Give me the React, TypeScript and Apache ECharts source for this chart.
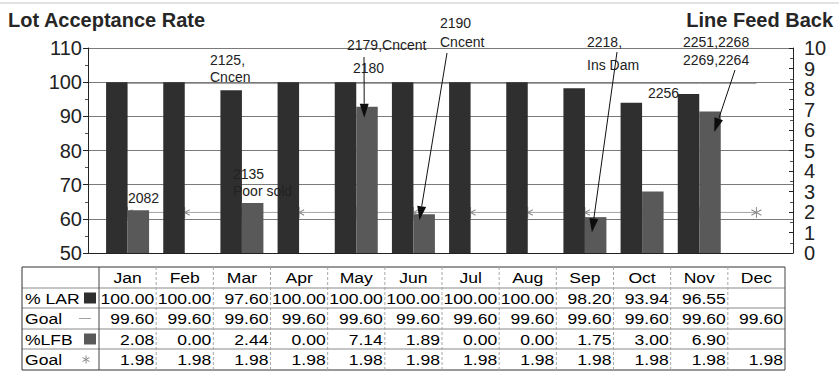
import React, { useEffect, useRef } from "react";
import * as echarts from "echarts";

// ---------- data ----------
const months = ["Jan", "Feb", "Mar", "Apr", "May", "Jun", "Jul", "Aug", "Sep", "Oct", "Nov", "Dec"];
const larValues = [100.0, 100.0, 97.6, 100.0, 100.0, 100.0, 100.0, 100.0, 98.2, 93.94, 96.55, null];
const larGoal = [99.6, 99.6, 99.6, 99.6, 99.6, 99.6, 99.6, 99.6, 99.6, 99.6, 99.6, 99.6];
const lfbValues = [2.08, 0.0, 2.44, 0.0, 7.14, 1.89, 0.0, 0.0, 1.75, 3.0, 6.9, null];
const lfbGoal = [1.98, 1.98, 1.98, 1.98, 1.98, 1.98, 1.98, 1.98, 1.98, 1.98, 1.98, 1.98];
const rowLabels = ["% LAR", "Goal", "%LFB", "Goal"];
const leftAxis = { min: 50, max: 110, interval: 10 };
const rightAxis = { min: 0, max: 10, interval: 1 };
const titleLeft = "Lot Acceptance Rate";
const titleRight = "Line Feed Back";

// annotation texts (each line separately)
const noteLines = ["2082", "2125,", "Cncen", "2135", "Poor sold", "2179,Cncent", "2180", "2190", "Cncent", "2218,", "Ins Dam", "2256", "2251,2268", "2269,2264"];
// arrows point at the %LFB bars
const arrowMonths = ["May", "Jun", "Sep", "Nov"];
const arrowTipValues = [6.6, 1.6, 1.0, 5.9];

// ---------- layout ----------
const W = 839;
const H = 378;
const FONT = '"Liberation Sans", Arial, sans-serif';
const noteLayout = [
  [128, 198], [210, 60], [210, 77], [233, 174], [233, 191], [347, 45], [353, 68],
  [440, 23], [440, 42], [587, 42], [587, 65], [648, 93], [683, 42], [683, 60],
];
const arrowStarts = [[364, 57], [447, 53], [617, 52], [735, 70]];
const arrowTipDx = [8, 6, 7, 15];
const tableRowsY = [267, 288, 308, 329, 349, 370];
const tableLeft = 22;

const DARK = "#2f2f2f";
const MID = "#595959";
const GOAL = "#a2a2a2";
const STAR = "path://M5,0L5,10M0.7,2.5L9.3,7.5M0.7,7.5L9.3,2.5";

export default function App() {
  const ref = useRef<HTMLDivElement>(null);

  useEffect(() => {
    if (!ref.current) return;
    const chart = echarts.init(ref.current, null, { renderer: "svg" });

    const axisLabel = { fontSize: 20, color: "#222", fontFamily: FONT };
    chart.setOption({
      animation: false,
      backgroundColor: "#ffffff",
      grid: [
        { left: 99, right: W - 785, top: 48, bottom: H - 253 },
        { left: 88, right: W - 793, top: 48, bottom: H - 253 },
      ],
      xAxis: [
        { gridIndex: 0, type: "category", data: months, show: false },
        {
          gridIndex: 1, type: "value", min: 0, max: 1,
          axisLine: { show: true, onZero: false, lineStyle: { color: "#222" } },
          axisTick: { show: false }, axisLabel: { show: false }, splitLine: { show: false },
        },
      ],
      yAxis: [
        { gridIndex: 0, type: "value", min: leftAxis.min, max: leftAxis.max, show: false },
        { gridIndex: 0, type: "value", min: rightAxis.min, max: rightAxis.max, show: false },
        {
          gridIndex: 1, type: "value", position: "left",
          min: leftAxis.min, max: leftAxis.max, interval: leftAxis.interval,
          axisLine: { show: true, lineStyle: { color: "#222" } },
          axisTick: { show: true, length: 5, lineStyle: { color: "#222" } },
          minorTick: { show: true, splitNumber: 2, length: 3, lineStyle: { color: "#555" } },
          axisLabel: { ...axisLabel, margin: 6 },
          splitLine: { show: true, lineStyle: { color: "#7a7a7a", width: 1 } },
        },
        {
          gridIndex: 1, type: "value", position: "right",
          min: rightAxis.min, max: rightAxis.max, interval: rightAxis.interval,
          axisLine: { show: true, lineStyle: { color: "#222" } },
          axisTick: { show: true, inside: true, length: 4, lineStyle: { color: "#222" } },
          minorTick: { show: true, splitNumber: 2, length: 3, lineStyle: { color: "#555" } },
          axisLabel: { ...axisLabel, margin: 11 },
          splitLine: { show: false },
        },
      ],
      series: [
        {
          name: "% LAR", type: "bar", xAxisIndex: 0, yAxisIndex: 0, data: larValues,
          barWidth: 21.5, barGap: "0%", itemStyle: { color: DARK }, z: 3,
        },
        {
          name: "%LFB", type: "bar", xAxisIndex: 0, yAxisIndex: 1, data: lfbValues,
          barWidth: 21.5, barGap: "0%", itemStyle: { color: MID }, z: 3,
        },
        {
          name: "Goal LAR", type: "line", xAxisIndex: 0, yAxisIndex: 0, data: larGoal,
          symbol: "none", lineStyle: { color: GOAL, width: 1 }, z: 1,
        },
        {
          name: "Goal LFB", type: "line", xAxisIndex: 0, yAxisIndex: 1, data: lfbGoal,
          symbol: STAR, symbolSize: [10, 11], showAllSymbol: true,
          itemStyle: { color: "transparent", borderColor: "#8a8a8a", borderWidth: 1 },
          lineStyle: { color: GOAL, width: 1 }, z: 1,
        },
      ],
    });

    // ---------- overlay: titles, annotations, data table ----------
    const centers = months.map((m) => chart.convertToPixel({ xAxisIndex: 0 }, m) as number);
    const bw = centers[1] - centers[0];
    const colEdges = [centers[0] - bw / 2, ...centers.map((c) => c + bw / 2)];
    const tableRight = colEdges[colEdges.length - 1];

    const g: any[] = [];
    const text = (x: number, y: number, t: string, o: any = {}) => ({
      type: "text", x, y, silent: true, z: 100, scaleX: o.scaleX ?? 1,
      style: {
        text: t, fill: o.fill ?? "#1a1a1a",
        font: `${o.weight ?? "normal"} ${o.size ?? 15}px ${FONT}`,
        textAlign: o.align ?? "left", textVerticalAlign: "middle",
      },
    });

    g.push({ type: "line", silent: true, shape: { x1: 0, y1: 3, x2: W, y2: 3 }, style: { stroke: "#c4c4c4", lineWidth: 1 } });
    g.push(text(8, 20, titleLeft, { size: 20, weight: "bold", fill: "#262626" }));
    g.push(text(833, 20, titleRight, { size: 20, weight: "bold", fill: "#262626", align: "right" }));

    noteLines.forEach((t, i) => {
      const [x, y] = noteLayout[i];
      g.push(text(x, y, t, { size: 14, fill: "#222" }));
    });

    arrowMonths.forEach((m, i) => {
      const p = chart.convertToPixel({ seriesIndex: 1 }, [m, arrowTipValues[i]]) as number[];
      const tx = p[0] + arrowTipDx[i];
      const ty = p[1];
      const [sx, sy] = arrowStarts[i];
      const dx = tx - sx, dy = ty - sy;
      const len = Math.hypot(dx, dy);
      const ux = dx / len, uy = dy / len;
      const hl = 14, hw = 4.5;
      const bx = tx - ux * hl, by = ty - uy * hl;
      g.push({ type: "line", silent: true, z: 100, shape: { x1: sx, y1: sy, x2: bx, y2: by }, style: { stroke: "#111", lineWidth: 1 } });
      g.push({
        type: "polygon", silent: true, z: 100,
        shape: { points: [[tx, ty], [bx - uy * hw, by + ux * hw], [bx + uy * hw, by - ux * hw]] },
        style: { fill: "#0d0d0d" },
      });
    });

    // table grid
    const yTop = tableRowsY[0];
    const yBot = tableRowsY[tableRowsY.length - 1];
    tableRowsY.forEach((y, i) => {
      const outer = i === 0 || i === tableRowsY.length - 1;
      g.push({ type: "line", silent: true, shape: { x1: tableLeft, y1: y, x2: tableRight, y2: y },
        style: { stroke: outer ? "#333" : "#8a8a8a", lineWidth: 1 } });
    });
    g.push({ type: "line", silent: true, shape: { x1: tableLeft, y1: yTop, x2: tableLeft, y2: yBot }, style: { stroke: "#333", lineWidth: 1 } });
    colEdges.forEach((x, i) => {
      const outer = i === colEdges.length - 1 || i === 0;
      g.push({ type: "line", silent: true, shape: { x1: x, y1: yTop, x2: x, y2: yBot },
        style: { stroke: outer ? "#444" : "#a8a8a8", lineWidth: 1, lineDash: outer ? null : [3, 2] } });
    });

    const SX = 1.17;
    const TF = "#000";
    months.forEach((m, i) => {
      g.push(text(centers[i], (tableRowsY[0] + tableRowsY[1]) / 2, m, { scaleX: SX, align: "center", fill: TF }));
    });
    const rows = [larValues, larGoal, lfbValues, lfbGoal];
    rows.forEach((vals, r) => {
      const yc = (tableRowsY[r + 1] + tableRowsY[r + 2]) / 2;
      g.push(text(25, yc, rowLabels[r], { scaleX: SX, fill: TF }));
      vals.forEach((v, i) => {
        if (v === null || v === undefined) return;
        g.push(text(colEdges[i + 1] - 2, yc, (v as number).toFixed(2), { scaleX: SX, align: "right", fill: TF }));
      });
    });
    // legend keys in the table
    const keyX = 84;
    const rc = (r: number) => (tableRowsY[r + 1] + tableRowsY[r + 2]) / 2;
    g.push({ type: "rect", silent: true, z: 101, shape: { x: keyX, y: rc(0) - 5.5, width: 12, height: 11 }, style: { fill: DARK } });
    g.push({ type: "line", silent: true, z: 101, shape: { x1: 79, y1: rc(1), x2: 91, y2: rc(1) }, style: { stroke: GOAL, lineWidth: 1 } });
    g.push({ type: "rect", silent: true, z: 101, shape: { x: keyX, y: rc(2) - 5.5, width: 12, height: 11 }, style: { fill: MID } });
    const sc = [86, rc(3)];
    [[0, -4, 0, 4], [-3.5, -2, 3.5, 2], [-3.5, 2, 3.5, -2]].forEach(([a, b, c, d]) => {
      g.push({ type: "line", silent: true, z: 101, shape: { x1: sc[0] + a, y1: sc[1] + b, x2: sc[0] + c, y2: sc[1] + d }, style: { stroke: "#888", lineWidth: 1 } });
    });

    chart.setOption({ graphic: g });

    return () => chart.dispose();
  }, []);

  return <div ref={ref} style={{ width: W, height: H, position: "absolute", left: 0, top: 0 }} />;
}
